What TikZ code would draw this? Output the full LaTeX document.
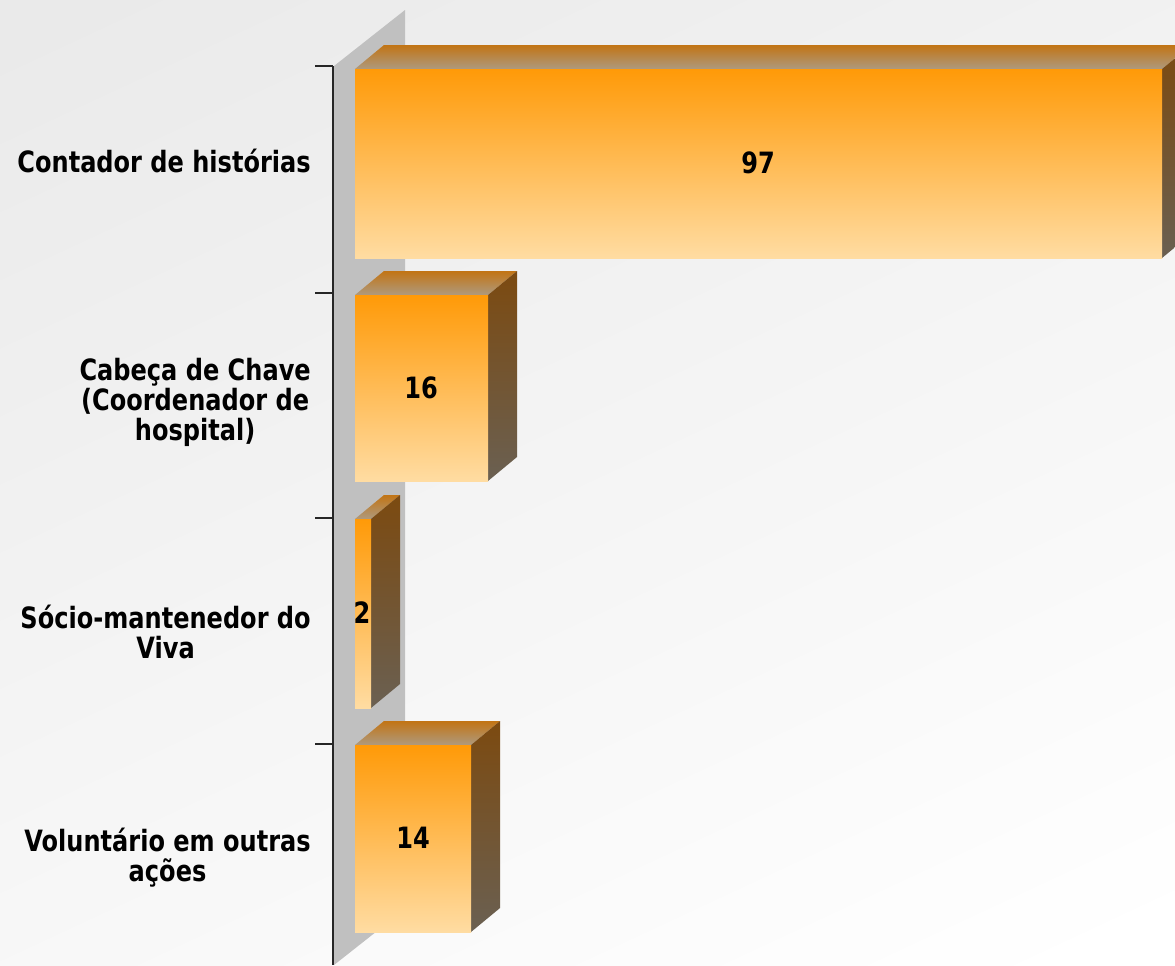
\documentclass[tikz,border=0pt]{standalone}
\usepackage{fontspec}
\setmainfont{DejaVu Sans}[FakeStretch=0.82]
\definecolor{bgtop}{HTML}{EAEAEA}
\definecolor{wallgray}{HTML}{C0C0C0}
\definecolor{fronttop}{HTML}{FF9A08}
\definecolor{frontmid}{HTML}{FFB868}
\definecolor{frontbot}{HTML}{FFDCA2}
\definecolor{topback}{HTML}{C27414}
\definecolor{topfront}{HTML}{AE9A7E}
\definecolor{sidetop}{HTML}{7C4A10}
\definecolor{sidebot}{HTML}{6A6052}
\newcommand\chartbar[3]{%
  \shade[top color=topback,bottom color=topfront] (355,#2) -- (384,{#2-24}) -- ({#1+29},{#2-24}) -- (#1,#2) -- cycle;
  \shade[top color=sidetop,bottom color=sidebot] (#1,#2) -- ({#1+29},{#2-24}) -- ({#1+29},{#3-24}) -- (#1,#3) -- cycle;
  \shade[top color=fronttop,middle color=frontmid,bottom color=frontbot] (355,#2) rectangle (#1,#3);
}
\begin{document}
\begin{tikzpicture}[x=0.75pt,y=-0.75pt,
  lab/.style={anchor=east,align=center,font=\bfseries\fontsize{22}{22.5}\selectfont,inner sep=0pt},
  val/.style={font=\bfseries\fontsize{22}{22.5}\selectfont,inner sep=0pt},
  axisline/.style={draw=black!85,line width=1.2pt}]
\useasboundingbox (0,0) rectangle (1175,965);
\begin{scope}
\clip (0,0) rectangle (1175,965);
\shade[top color=bgtop,bottom color=white,shading angle=25] (-200,-100) rectangle (1375,1065);
\fill[wallgray] (334,66) -- (405,10) -- (405,909) -- (334,965) -- cycle;
\chartbar{1162}{69}{258}
\chartbar{488}{295}{481}
\chartbar{371}{519}{708}
\chartbar{471}{745}{932}
\end{scope}
\coordinate (axtop) at (333,66);
\coordinate (axbot) at (333,965);
\draw[axisline] (axtop) -- (axbot);
\foreach \yy/\nm in {66/t1,293/t2,518/t3,744/t4}{
  \coordinate (\nm a) at (315,\yy);
  \coordinate (\nm b) at (333,\yy);
  \draw[axisline] (\nm a) -- (\nm b);
}
\node[lab] (l1) at (311,161) {Contador de histórias};
\node[lab] (l2) at (311,402) {Cabeça de Chave\\(Coordenador de\\hospital)};
\node[lab] (l3) at (311,632) {Sócio-mantenedor do\\Viva};
\node[lab] (l4) at (311,858) {Voluntário em outras\\ações};
\node[val] (v1) at (758,163) {97};
\node[val] (v2) at (421,388) {16};
\node[val] (v3) at (362,613) {2};
\node[val] (v4) at (413,838) {14};
\end{tikzpicture}
\end{document}
